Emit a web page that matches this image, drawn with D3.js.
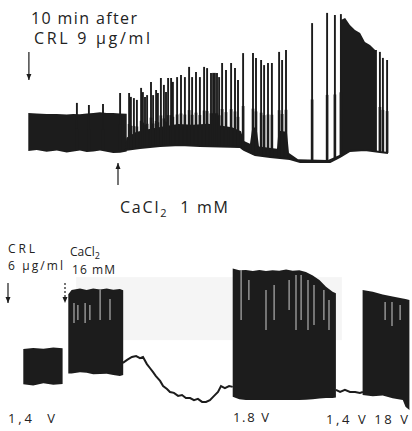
<!DOCTYPE html>
<html>
<head>
<meta charset="utf-8">
<script src="https://cdn.jsdelivr.net/npm/d3@7"></script>
<style>
  body { margin: 0; background: #fff; }
  text { font-family: "Open Sans", Lato, "DejaVu Sans", sans-serif; fill: #222; }
</style>
</head>
<body>
<svg id="chart" width="412" height="431"></svg>
<script>
// ---- upper record (time s, potential mV) ----
// burst before CaCl2: [t, upper, lower]
const topBurst = [[0.1,17.3,4.7],[2.9,17.2,5],[6.2,17,4.4],[9.6,17,4.8],[12.9,16.8,4.2],[15.1,17,4.5],
  [17.3,16.9,4.8],[19.6,17.2,4.3],[21.8,17.3,4.5],[24,17.6,4.8],[26.2,17.3,4.4],[28.4,17.3,4],
  [30.7,17.2,4.1],[32.9,17.1,4.5]];
// resting baseline after CaCl2
const topBaseline = [[32.3,5],[37.3,5.7],[44,6.3],[50.7,6.7],[57.3,6.3],[70.7,6],[72,5],[75.7,3.3],
  [80.7,2.7],[87.3,2],[90.7,1],[100.7,1],[104,2.7],[107.3,4.7],[112.3,5],[117.3,4.3],[120,4]];
// dark band of small deflections above baseline [t, height]
const topBand = [[32.3,0],[32.8,4],[36,5.5],[40,6],[45,6.5],[50,7],[55,7],[60,7.5],[64,7],[68,6.5],
  [71,5.5],[72,3],[74,3],[74.8,9],[76.2,9],[77,3],[83,3],[83.5,9],[86.3,9],[87,2],[90,0.7],
  [100,0.7],[104,0.7]];
// spike peaks [t, peak]
const topSpikes = [[16.3,20.7],[20.3,20],[25,20.3],[30.7,24],[33.7,24],[34.3,22.7],[35.3,22.3],
  [36.3,21.7],[37.7,25.7],[38.3,24.3],[39,22.7],[39.7,23.3],[41,27.7],[41.7,23.3],[42.7,25],
  [43.3,24],[44.3,29],[45.3,26.7],[46,24.3],[46.7,29],[47.7,29],[48.3,27.7],[49.7,29.3],[51,30],
  [52.3,29.3],[53.7,32.7],[54.7,29.3],[56,31],[57.3,29.3],[58.7,32.7],[59.7,32.3],[61,30.7],
  [61.7,30.7],[62.3,30.7],[63,30.7],[63.7,29.3],[64.7,34],[66,31.7],[67.7,34],[69,32.3],
  [70,28.3],[71.7,37.3],[75,37.3],[76,35.7],[77.7,35],[78.7,33.3],[80,34],[81.3,34],[83.7,37.7],
  [84.7,35],[86,38.3],[94.7,47.3],[99.7,50.7],[102.3,50],[104.3,50.3],[117.3,37.7],[118.3,35.7],
  [119.7,35]];
// late dense train [t, upper]
const topTrain = [[104.3,48.3],[105.7,49],[107.3,46.7],[109,45],[110.7,44],[112.3,41],[114,40],
  [115.7,38.3],[116.3,38.3]];

// ---- lower record ----
// blocks of activity: [t, upper, lower]
const botBlocks = [
  [[1.1,20.3,8.6],[4.4,20.7,8.2],[7.8,20.4,8.9],[11.1,20.8,8.4],[14.2,20.6,8.7]],
  [[16.1,38.6,12.2],[17.2,40,12.2],[20,40.5,12.6],[22.2,40,12.4],[24.4,40.5,11.9],[26.7,40.2,12],
   [28.9,40.5,12.1],[31.1,40.1,11.7],[33.3,40.3,11.3],[34.4,39.9,11.7]],
  [[70.9,47.2,4.4],[73.1,46.6,3.6],[75.3,46.7,3.3],[77.6,46.3,3.3],[79.8,46.7,3.3],[82,46.3,3.3],
   [84.2,46.6,3.3],[86.4,46.4,3.3],[88.7,46.8,3.3],[90.9,46.4,3.3],[93.1,46.6,3.3],[95.3,46,3.4],
   [97.6,44.8,3.6],[99.8,43.3,3.8],[102,41.1,4],[104.2,39.4,4],[105.3,38.9,4.2]],
  [[114.2,40,5],[117.6,39.4,4.6],[120.9,38.5,4.8],[124.2,37.8,3.9],[127.6,37.2,3.3],[128.5,37,1.1],
   [129.8,36.7,0]]
];
// slow potential between blocks [t, v]
const botLineA = [[34.3,15.7],[35.7,16.7],[37.3,17.7],[38.7,18],[40,17.3],[41,17.7],[42.3,15.3],
  [43.3,14],[44.3,12.7],[45.3,11.3],[46.7,9.7],[47.7,8],[49,7],[50,6],[51.3,5.7],[52.7,4.7],[54,5],
  [55.3,4],[56.7,4],[58,3.3],[59.3,3.7],[60.7,2.7],[62,2.7],[63.3,3.3],[64.7,4.7],[66,6],[67,8],
  [68.3,7.3],[69.7,8],[70.9,7.7]];
const botLineB = [[105.3,6.7],[106.7,6],[108.3,6.7],[110,6],[111.7,6],[113.3,5.7],[114.3,6]];
// light gaps in block tops [t, upper, lower]
const botStreaks = [[18,35.7,29],[19.3,35,30],[21.7,35.7,29],[23.3,35,30],[26.7,40,30],[30,37,30],
  [73.7,46.7,30],[76.3,43.3,36.7],[82,40,26.7],[84.7,41.7,30],[89.7,43.3,33.3],[92,45,26.7],
  [93.7,45,30],[96,43.3,26.7],[98,41.7,28.3],[101.3,40,30],[103,36.7,26.7],
  [121.7,36,30],[124,36,28],[126.7,35,30]];

const ink = "#1c1c1c";
const svg = d3.select("#chart");

const xTop = d3.scaleLinear().domain([0, 120]).range([28, 388]);
const yTop = d3.scaleLinear().domain([0, 55]).range([165, 0]);
const xBot = d3.scaleLinear().domain([0, 130]).range([20, 410]);
const yBot = d3.scaleLinear().domain([0, 45]).range([410, 275]);

const baseAt = d3.scaleLinear()
    .domain(topBaseline.map(d => d[0]))
    .range(topBaseline.map(d => d[1]))
    .clamp(true);

// faint patch of the scanned print behind the lower record
svg.append("rect")
    .attr("x", xBot(18.7)).attr("y", yBot(44.3))
    .attr("width", xBot(107.3) - xBot(18.7)).attr("height", yBot(23.3) - yBot(44.3))
    .attr("fill", "#f5f5f5");

// ---- upper record ----
const gTop = svg.append("g").attr("class", "upper");

gTop.append("path")
    .datum(topBurst)
    .attr("fill", ink)
    .attr("d", d3.area().x(d => xTop(d[0])).y0(d => yTop(d[2])).y1(d => yTop(d[1])));

gTop.append("path")
    .datum(topBand)
    .attr("fill", ink)
    .attr("d", d3.area()
      .x(d => xTop(d[0]))
      .y0(d => yTop(baseAt(d[0])))
      .y1(d => yTop(baseAt(d[0]) + d[1])));

gTop.append("path")
    .datum(topTrain)
    .attr("fill", ink)
    .attr("d", d3.area().x(d => xTop(d[0])).y0(d => yTop(baseAt(d[0]))).y1(d => yTop(d[1])));

  // spikes: thin upstroke plus a heavier foot over the lower part
const spikes = gTop.selectAll("g.spike")
    .data(topSpikes)
    .join("g")
    .attr("class", "spike");
spikes.append("line")
    .attr("x1", d => xTop(d[0])).attr("x2", d => xTop(d[0]))
    .attr("y1", d => yTop(baseAt(d[0])))
    .attr("y2", d => yTop(d[1]))
    .attr("stroke", ink)
    .attr("stroke-width", 1.9);
spikes.append("line")
    .attr("x1", d => xTop(d[0])).attr("x2", d => xTop(d[0]))
    .attr("y1", d => yTop(baseAt(d[0])))
    .attr("y2", d => yTop(baseAt(d[0]) + (d[1] - baseAt(d[0])) * 0.45))
    .attr("stroke", ink)
    .attr("stroke-width", 2.6);

gTop.append("path")
    .datum(topBaseline)
    .attr("fill", "none")
    .attr("stroke", ink)
    .attr("stroke-width", 2)
    .attr("d", d3.line().x(d => xTop(d[0])).y(d => yTop(d[1])));

// ---- lower record ----
const gBot = svg.append("g").attr("class", "lower");

gBot.selectAll("path.block")
    .data(botBlocks)
    .join("path")
    .attr("class", "block")
    .attr("fill", ink)
    .attr("d", d3.area().x(d => xBot(d[0])).y0(d => yBot(d[2])).y1(d => yBot(d[1])));

gBot.selectAll("line.streak")
    .data(botStreaks)
    .join("line")
    .attr("class", "streak")
    .attr("x1", d => xBot(d[0])).attr("x2", d => xBot(d[0]))
    .attr("y1", d => yBot(d[1])).attr("y2", d => yBot(d[2]))
    .attr("stroke", "#bdbdbd")
    .attr("stroke-width", 1.1);

gBot.selectAll("path.slow")
    .data([botLineA, botLineB])
    .join("path")
    .attr("class", "slow")
    .attr("fill", "none")
    .attr("stroke", ink)
    .attr("stroke-width", 2)
    .attr("d", d3.line().x(d => xBot(d[0])).y(d => yBot(d[1])));

// ---- arrows ----
function arrow(x, yFrom, yTo, dashed) {
  const dir = yTo > yFrom ? 1 : -1;
  svg.append("line")
      .attr("x1", x).attr("x2", x).attr("y1", yFrom).attr("y2", yTo)
      .attr("stroke", ink).attr("stroke-width", 1.2)
      .attr("stroke-dasharray", dashed ? "2,2" : null);
  svg.append("path")
      .attr("d", `M${x - 2.5},${yTo - dir * 6}L${x},${yTo}L${x + 2.5},${yTo - dir * 6}Z`)
      .attr("fill", ink);
}
arrow(xTop(0.3), yTop(37.7), yTop(28.3));
arrow(xTop(30), yTop(-6.7), yTop(0.7));
arrow(xBot(-4), yBot(42.3), yBot(35.7));
arrow(xBot(15), yBot(42.3), yBot(35.7), true);

// ---- labels ----
function label(g, x, y, txt, len) {
  return g.append("text").attr("x", x).attr("y", y)
      .attr("textLength", len).attr("lengthAdjust", "spacing")
      .text(txt);
}
const t1 = svg.append("g").style("font-size", "16px");
label(t1, 31, 24, "10 min after", 106);
label(t1, 34, 44, "CRL 9 µg/ml", 116);
const ca = t1.append("text").attr("x", 120).attr("y", 213)
    .attr("textLength", 108).attr("lengthAdjust", "spacing");
ca.append("tspan").text("CaCl");
ca.append("tspan").attr("dy", 4).style("font-size", "11px").text("2");
ca.append("tspan").attr("dy", -4).text("\u00a0 1 mM");

const t2 = svg.append("g").style("font-size", "12px");
label(t2, 8, 253, "CRL", 27);
label(t2, 8, 270, "6 µg/ml", 55);
const ca2 = t2.append("text").attr("x", 70).attr("y", 256);
ca2.append("tspan").text("CaCl");
ca2.append("tspan").attr("dy", 3).style("font-size", "9px").text("2");
label(t2, 72, 274, "16 mM", 43);

const t3 = svg.append("g").style("font-size", "13px");
label(t3, 8, 423, "1,4\u00a0\u00a0V", 47);
label(t3, 233, 422, "1.8\u00a0V", 36);
label(t3, 326, 424, "1,4 V 18 V", 82);
</script>
</body>
</html>
